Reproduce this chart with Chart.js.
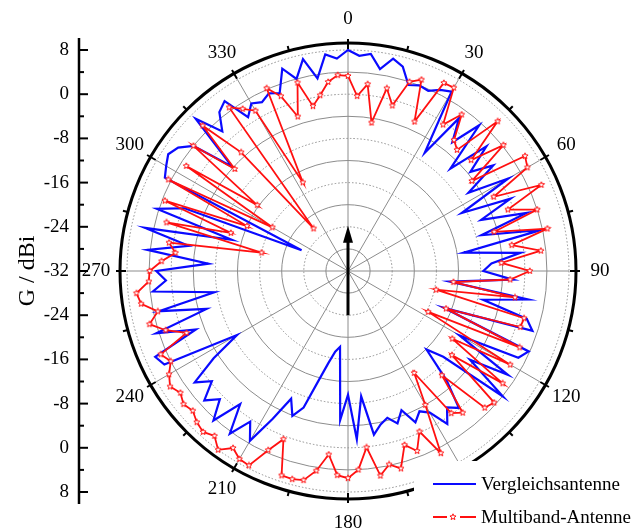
<!DOCTYPE html>
<html>
<head>
<meta charset="utf-8">
<script src="https://cdn.jsdelivr.net/npm/chart.js@4.4.0/dist/chart.umd.min.js"></script>
<style>
  html, body { margin: 0; padding: 0; background: #fff; }
  #wrap { width: 632px; height: 532px; position: relative; }
</style>
</head>
<body>
<div id="wrap"><canvas id="polarChart" width="632" height="532"></canvas></div>
<script>
// Angles in degrees, one sample every 3 degrees, clockwise from the top.
const angles = Array.from({ length: 120 }, (_, i) => i * 3);
const angleTicks = [0, 30, 60, 90, 120, 150, 180, 210, 240, 270, 300, 330];
const gainTicks = [-32, -24, -16, -8, 0, 8];

// G / dBi, 10 values per 30 degrees.
const vergleichGain = [
  8.0, 7.0, 7.5, 5.0, 7.3, 6.3, 3.4, 4.0, 3.7, 4.8,
  5.5, -6.5, 2.2, -2.0, 3.5, -5.8, 1.7, -3.5, 0.5, -6.0,
  1.5, -8.9, 0.2, -6.2, 2.0, -7.0, 3.8, -10.8, -0.6, -6.0,
  -7.5, -2.1, -13.5, 1.0, -7.0, 1.5, 3.1, -13.4, 3.8, 2.6,
  -8.7, 2.5, -4.7, 4.1, -8.8, -11.9, -5.3, -0.1, -1.5, 1.0,
  -2.4, -3.5, -2.0, -5.0, -3.0, -4.5, -3.6, -2.0, -9.2, -1.5,
  -9.6, -5.0, -18.2, -17.2, -15.0, -11.5, -6.0, -3.9, -6.7, -2.0,
  3.5, 0.5, 4.4, -1.0, 4.4, 0.8, 3.0, -0.3, 2.3, -3.0,
  -8.8, 5.3, 6.2, -2.5, 4.5, -5.5, 3.0, -7.5, 3.5, 1.0,
  2.7, -6.7, 4.5, -2.8, 5.6, -10.2, 4.4, -0.3, -22.8, 5.2,
  6.0, 6.8, 6.0, 4.0, -3.8, 7.0, 2.0, 5.0, 6.0, 1.2,
  3.0, 2.3, 3.2, 2.5, 6.5, 4.0, 7.2, 3.3, 7.4, 6.5
];

const multibandGain = [
  3.3, -0.3, 2.0, -4.8, 1.8, -1.0, 4.0, 5.1, -2.4, 6.2,
  6.3, -0.4, 3.0, -1.5, -2.5, 6.3, -2.0, 4.2, -4.3, 6.2,
  5.5, -2.4, 6.3, -1.0, 4.0, -4.6, 4.9, -2.0, 3.1, -4.2,
  0.9, -2.6, -12.8, -1.4, -15.7, 1.0, 0.8, -13.0, 2.0, -15.7,
  1.9, -9.5, 2.6, -7.8, 3.6, 3.0, -6.6, 1.0, -0.2, -10.0,
  -4.0, 5.0, -0.2, 2.9, 1.1, 5.0, 3.8, 5.5, 0.1, 4.0,
  5.5, 5.0, 1.4, 4.6, 6.7, 7.0, 6.9, 0.6, 3.5, 7.5,
  7.3, 6.2, 8.0, 6.4, 7.2, 6.7, 5.8, 6.3, 5.5, 6.4,
  5.4, 4.0, 5.1, -0.7, 2.7, 5.2, 3.2, 5.9, 6.5, 4.1,
  3.9, 1.8, -0.6, 0.8, -16.0, 2.0, -9.7, 3.5, -12.0, 4.5,
  -16.2, 2.9, -11.7, 4.0, -4.4, 5.2, -3.1, -22.1, 4.6, 3.0,
  1.5, -14.0, 4.2, 1.9, -2.6, 3.3, -1.5, 0.2, 2.4, 3.5
];

const blue = '#0a0aff';
const red = '#ff1010';
const serif = '"Liberation Serif", "DejaVu Serif", serif';

// Hollow five point star used as the marker of the red curve.
function makeStar(size, color) {
  const c = document.createElement('canvas');
  c.width = size;
  c.height = size;
  const g = c.getContext('2d');
  const ro = size / 2 - 0.8, ri = ro * 0.45;
  g.beginPath();
  for (let i = 0; i < 10; i++) {
    const r = i % 2 ? ri : ro;
    const a = -Math.PI / 2 + i * Math.PI / 5;
    g.lineTo(size / 2 + r * Math.cos(a), size / 2 + r * Math.sin(a));
  }
  g.closePath();
  g.fillStyle = '#fff';
  g.fill();
  g.strokeStyle = color;
  g.lineWidth = 1;
  g.stroke();
  return c;
}
const starImg = makeStar(8, red);

// Angular axis ring, labels, the gain axis on the left, the arrow and the legend.
const polarDecor = {
  id: 'polarDecor',
  afterDraw(chart) {
    const ctx = chart.ctx;
    const scale = chart.scales.r;
    const cx = scale.xCenter, cy = scale.yCenter;
    const rMax = scale.getDistanceFromCenterForValue(8);
    const rAxis = rMax + 7;

    ctx.save();
    ctx.strokeStyle = '#000';
    ctx.fillStyle = '#000';

    // outer ring
    ctx.lineWidth = 3;
    ctx.beginPath();
    ctx.arc(cx, cy, rAxis, 0, Math.PI * 2);
    ctx.stroke();

    // ring ticks
    ctx.lineWidth = 2;
    for (let a = 0; a < 360; a += 15) {
      const t = (a - 90) * Math.PI / 180;
      const r1 = a % 30 === 0 ? rAxis - 6 : rAxis;
      const r2 = a % 30 === 0 ? rAxis + 4 : rAxis + 5;
      ctx.beginPath();
      ctx.moveTo(cx + r1 * Math.cos(t), cy + r1 * Math.sin(t));
      ctx.lineTo(cx + r2 * Math.cos(t), cy + r2 * Math.sin(t));
      ctx.stroke();
    }

    // angle labels
    ctx.font = '19px ' + serif;
    ctx.textAlign = 'center';
    ctx.textBaseline = 'middle';
    angleTicks.forEach(a => {
      const t = (a - 90) * Math.PI / 180;
      const r = rAxis + 24;
      ctx.fillText(String(a), cx + r * Math.cos(t), cy + r * Math.sin(t));
    });

    // gain axis on the left
    const axisX = 79;
    ctx.lineWidth = 2.5;
    ctx.beginPath();
    ctx.moveTo(axisX, cy - rMax - 12);
    ctx.lineTo(axisX, cy + rMax + 12);
    ctx.stroke();
    ctx.lineWidth = 2;
    for (let v = -32; v <= 8; v += 4) {
      const d = scale.getDistanceFromCenterForValue(v);
      const len = v % 8 === 0 ? 9 : 5;
      [cy - d, cy + d].forEach(y => {
        ctx.beginPath();
        ctx.moveTo(axisX, y);
        ctx.lineTo(axisX + len, y);
        ctx.stroke();
      });
    }
    ctx.textAlign = 'right';
    gainTicks.forEach(v => {
      const d = scale.getDistanceFromCenterForValue(v);
      ctx.fillText(String(v), axisX - 10, cy - d);
      if (d > 0) ctx.fillText(String(v), axisX - 10, cy + d);
    });

    ctx.save();
    ctx.translate(28, cy);
    ctx.rotate(-Math.PI / 2);
    ctx.textAlign = 'center';
    ctx.font = '24px ' + serif;
    ctx.fillText('G / dBi', 0, 0);
    ctx.restore();

    // direction arrow in the middle
    const dArrow = scale.getDistanceFromCenterForValue(-24);
    ctx.lineWidth = 3;
    ctx.beginPath();
    ctx.moveTo(cx, cy + dArrow);
    ctx.lineTo(cx, cy - dArrow + 12);
    ctx.stroke();
    ctx.beginPath();
    ctx.moveTo(cx, cy - dArrow - 1);
    ctx.lineTo(cx - 5, cy - dArrow + 16);
    ctx.lineTo(cx + 5, cy - dArrow + 16);
    ctx.closePath();
    ctx.fill();

    // legend
    const sets = chart.data.datasets;
    ctx.fillStyle = '#fff';
    ctx.fillRect(414, 461, 218, 71);
    ctx.font = '19px ' + serif;
    ctx.textAlign = 'left';
    ctx.textBaseline = 'alphabetic';
    ctx.fillStyle = '#000';

    ctx.strokeStyle = sets[0].borderColor;
    ctx.lineWidth = 2.2;
    ctx.beginPath();
    ctx.moveTo(433, 484);
    ctx.lineTo(476, 484);
    ctx.stroke();
    ctx.fillText(sets[0].label, 481, 490);

    ctx.strokeStyle = sets[1].borderColor;
    ctx.lineWidth = 2;
    ctx.beginPath();
    ctx.moveTo(433, 517);
    ctx.lineTo(447, 517);
    ctx.moveTo(460, 517);
    ctx.lineTo(476, 517);
    ctx.stroke();
    ctx.drawImage(starImg, 449, 513);
    ctx.fillText(sets[1].label, 481, 523);

    ctx.restore();
  }
};

const gridGrey = '#8c8c8c';

new Chart(document.getElementById('polarChart'), {
  type: 'radar',
  data: {
    labels: angles,
    datasets: [
      {
        label: 'Vergleichsantenne',
        data: vergleichGain,
        borderColor: blue,
        borderWidth: 2.2,
        pointRadius: 0,
        pointHoverRadius: 0,
        fill: false,
        order: 2
      },
      {
        label: 'Multiband-Antenne',
        data: multibandGain,
        borderColor: red,
        borderWidth: 1.8,
        pointStyle: starImg,
        pointRadius: 3,
        fill: false,
        order: 1
      }
    ]
  },
  options: {
    responsive: false,
    animation: false,
    devicePixelRatio: 1,
    layout: { padding: { left: 127, right: 63, top: 50, bottom: 40 } },
    elements: { line: { tension: 0 } },
    plugins: {
      legend: { display: false },
      tooltip: { enabled: false }
    },
    scales: {
      r: {
        min: -32,
        max: 8,
        ticks: { display: false, stepSize: 4 },
        pointLabels: { display: false },
        grid: { circular: true, color: gridGrey, lineWidth: 1 },
        border: { dash: ctx => (ctx.tick && ctx.tick.value % 8 === 0) ? [1.5, 2] : [] },
        angleLines: {
          color: gridGrey,
          lineWidth: ctx => ctx.index % 10 === 0 ? 1 : 0
        }
      }
    }
  },
  plugins: [polarDecor]
});
</script>
</body>
</html>
